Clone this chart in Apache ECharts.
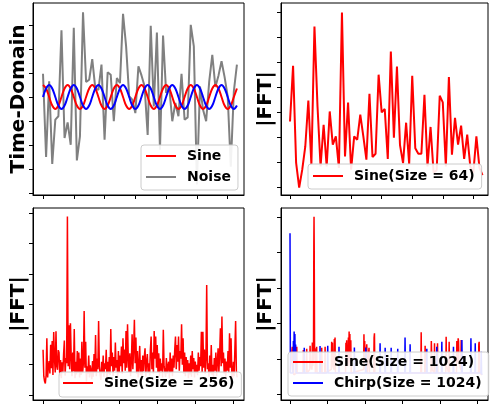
<!DOCTYPE html>
<html><head><meta charset="utf-8">
<script src="https://cdn.jsdelivr.net/npm/echarts@6/dist/echarts.min.js"></script>
<style>html,body{margin:0;padding:0;background:#fff}#c{width:490px;height:410px}</style>
</head><body><div id="c"></div><script>
// ---- Data ----
const sineTime = [0.5,0.354,0,-0.354,-0.5,-0.354,0,0.354, 0.5,0.354,0,-0.354,-0.5,-0.354,0,0.354,
  0.5,0.354,0,-0.354,-0.5,-0.354,0,0.354, 0.5,0.354,0,-0.354,-0.5,-0.354,0,0.354,
  0.5,0.354,0,-0.354,-0.5,-0.354,0,0.354, 0.5,0.354,0,-0.354,-0.5,-0.354,0,0.354,
  0.5,0.354,0,-0.354,-0.5,-0.354,0,0.354, 0.5,0.354,0,-0.354,-0.5,-0.354,0,0.354];
const sineShifted = [0,0.354,0.5,0.354,0,-0.354,-0.5,-0.354, 0,0.354,0.5,0.354,0,-0.354,-0.5,-0.354,
  0,0.354,0.5,0.354,0,-0.354,-0.5,-0.354, 0,0.354,0.5,0.354,0,-0.354,-0.5,-0.354,
  0,0.354,0.5,0.354,0,-0.354,-0.5,-0.354, 0,0.354,0.5,0.354,0,-0.354,-0.5,-0.354,
  0,0.354,0.5,0.354,0,-0.354,-0.5,-0.354, 0,0.354,0.5,0.354,0,-0.354,-0.5,-0.354];
const noise = [0.97,-2.5,0.65,-2.79,-0.94,-0.8,2.78,-1.71,-1.06,-1.99,2.88,-2.64,-1.64,3.53,0.63,0.72,
  1.58,0.35,0.3,1.35,-1.78,1.03,0.93,-1.01,0.79,0.58,3.47,2.11,0.03,-0.11,-0.67,1.28,
  0.9,0.45,-1.58,2.97,-0.39,2.69,-2.2,2.56,0.17,0.44,-1.01,-0.25,-0.8,0.97,-0.95,-0.85,
  3.01,2.11,-3.64,0.44,-0.53,-1.01,0.65,1.76,0.42,0.89,1.49,0.83,0.03,-2.9,0.24,1.35];
const fft64 = [2.65,4.88,0.99,0.0,0.72,1.65,3.49,0.92,6.45,3.25,0.85,2.52,0.85,3.05,1.72,2.05,
  0.79,7.01,1.25,3.41,0.72,2.05,1.92,2.92,2.05,1.12,3.76,1.23,1.36,4.52,3.01,3.15,
  1.15,5.45,2.0,4.85,1.7,0.98,2.6,0.95,4.48,1.58,1.36,1.36,3.72,0.85,2.43,0.6,
  0.7,3.68,3.41,0.85,4.43,1.32,2.79,1.72,2.48,1.15,2.12,0.85,0.6,2.05,0.8,0.5];
const fft256 = [1.49,0.62,0.45,0.38,0.65,1.87,0.58,0.92,1.12,0.71,1.66,0.88,1.78,0.66,2.08,1.21,
  0.74,2.10,0.95,0.83,1.48,1.40,0.62,1.15,0.55,1.08,0.72,1.35,1.80,0.64,1.22,1.05,
  5.89,0.95,2.30,0.85,2.37,1.25,0.62,1.40,0.78,2.18,0.55,1.10,0.68,1.45,0.74,1.40,
  0.58,1.20,0.66,1.76,0.72,1.05,2.77,0.90,1.76,0.45,0.95,0.70,1.30,0.58,0.98,0.80,
  0.52,1.12,0.60,1.35,0.75,1.98,0.62,1.20,0.85,2.44,0.95,0.66,0.50,1.10,0.72,1.30,
  0.60,1.05,0.85,1.49,0.55,1.10,0.70,1.25,0.66,2.18,0.95,1.40,0.62,1.25,0.80,1.73,
  0.90,1.15,0.58,1.45,0.72,1.30,0.95,1.60,0.70,1.87,1.05,1.50,0.80,2.11,0.90,2.33,
  1.20,0.75,1.38,0.62,1.10,2.00,0.85,1.55,2.48,1.05,1.90,0.70,1.45,0.58,1.00,1.62,
  0.66,1.15,0.52,1.30,0.78,1.25,1.54,0.60,1.10,1.35,0.72,1.05,0.64,1.50,1.93,0.85,
  1.40,0.70,2.11,1.20,1.93,0.90,1.65,0.75,1.38,0.62,1.20,0.80,1.05,0.58,2.15,0.95,
  1.00,0.60,1.22,0.70,0.95,1.10,0.55,1.40,0.75,1.20,0.62,1.30,0.90,1.50,1.93,0.85,
  1.65,1.10,1.93,0.80,1.45,1.20,2.33,1.00,1.87,0.70,1.40,0.62,1.25,0.75,1.15,0.55,
  1.05,0.68,1.30,0.60,1.45,0.85,1.22,0.58,1.10,0.72,1.00,0.65,1.40,0.80,1.25,0.95,
  2.09,0.75,2.09,0.90,1.50,0.70,1.20,3.63,0.85,1.05,0.60,1.30,0.72,1.65,0.66,1.00,
  0.58,1.22,0.80,1.40,0.62,1.10,1.54,0.75,1.35,2.20,0.95,2.59,1.05,1.40,0.70,1.20,
  0.60,1.10,0.80,1.45,0.72,2.04,0.90,1.87,0.65,0.55,1.10,0.62,1.50,2.44,0.75,0.58];
// size-1024 spectra: [bin index, |FFT|] points
const sine1024 = [[0,0.6],[10,0.55],[12,1.34],[14,0.6],[18,1.3],[20,0.55],[34,0.6],[36,1.34],[38,0.6],
  [69,0.6],[71,1.25],[73,0.6],[87,0.6],[89,1.28],[91,0.6],
  [105,0.7],[107,1.37],[109,0.8],[117,0.7],[119,1.46],[121,0.8],
  [125,1.0],[127,4.3],[128,5.0],[129,4.1],[131,1.1],[133,1.3],[135,0.6],
  [140,0.6],[142,1.34],[144,0.6],[167,0.6],[169,1.31],[171,0.6],[185,0.6],[187,1.34],[189,0.6],
  [220,0.7],[222,1.48],[224,0.8],[226,1.45],[228,0.8],[234,0.7],[236,1.56],[238,0.8],[240,1.6],[242,0.6],
  [296,0.6],[298,1.45],[300,0.8],[302,1.52],[304,0.9],[309,0.8],[311,1.6],[313,1.0],[315,1.77],[317,0.9],[319,1.7],[321,0.8],[324,1.52],[326,0.6],
  [392,0.7],[394,1.69],[396,0.8],[398,1.5],[400,0.7],[407,0.7],[409,1.41],[411,0.6],[419,0.6],[421,1.31],[423,0.6],
  [446,0.6],[448,1.6],[450,1.72],[452,0.6],
  [697,0.6],[699,1.75],[701,0.6],[718,0.6],[720,1.37],[722,0.6],
  [751,0.6],[753,1.5],[755,1.53],[757,0.7],[768,0.6],[770,1.44],[772,0.6],[784,0.6],[786,1.44],[788,0.6],
  [830,0.6],[832,1.62],[834,0.8],[846,0.6],[848,1.48],[850,0.6],
  [887,0.6],[889,1.5],[891,0.9],[896,1.58],[898,1.5],[900,0.9],[910,0.7],[912,1.53],[914,0.6],
  [1004,0.6],[1006,1.42],[1008,1.48],[1010,0.6],[1023,0.55]];
const chirp1024 = [[0,4.54],[2,0.6],[16,0.6],[18,1.5],[20,0.9],[22,1.77],[24,1.1],[26,1.7],[28,0.9],[30,1.4],[32,0.6],
  [74,0.6],[76,1.31],[78,0.6],[158,0.6],[160,1.36],[162,0.6],[199,0.6],[201,1.37],[203,0.6],
  [259,0.6],[261,1.34],[263,0.6],[341,0.6],[343,1.32],[345,0.6],[402,0.6],[404,1.32],[406,0.6],
  [478,0.6],[480,1.44],[482,0.6],[505,0.6],[507,1.31],[509,0.6],[537,0.6],[539,1.31],[541,0.6],[572,0.6],[574,1.28],[576,0.6],
  [611,0.6],[613,1.6],[615,0.6],[638,0.6],[640,1.41],[642,0.6],[727,0.6],[729,1.28],[731,0.6],[780,0.6],[782,1.34],[784,0.6],
  [807,0.6],[809,1.48],[811,0.6],[869,0.6],[871,1.34],[873,0.6],[914,0.6],[916,1.53],[918,0.6],[962,0.6],[964,1.58],[966,0.6],
  [985,0.6],[987,1.44],[989,0.6],[1017,0.6],[1019,1.2],[1021,0.6],[1023,0.55]];
// tick positions (labels hidden in the reference)
const ticks64 = [0,10,20,30,40,50,60];
const ticks256 = [0,50,100,150,200,250];
const ticks1024 = [0,200,400,600,800,1000];
const ticksTimeY = [-4,-3,-2,-1,0,1,2,3];
const ticksFft64Y = [0,1,2,3,4,5,6,7];
const ticksFft256Y = [0,1,2,3,4,5,6];
const ticksFft1024Y = [0,1,2,3,4,5];

// ---- Chart ----
const chart = echarts.init(document.getElementById('c'), null, {renderer:'canvas'});
const idx = arr => arr.map((v,i)=>[i,v]);
const FONT = 'DejaVu Sans';
function xAx(g, min, max, ticks){
  return {type:'value', gridIndex:g, min:min, max:max,
    axisLine:{show:true, onZero:false, lineStyle:{color:'#000', width:1}},
    axisTick:{show:true, length:4, lineStyle:{color:'#000', width:1}, customValues:ticks},
    axisLabel:{show:false}, splitLine:{show:false}};
}
function yAx(g, min, max, ticks){
  return {type:'value', gridIndex:g, min:min, max:max,
    axisLine:{show:true, onZero:false, lineStyle:{color:'#000', width:1}},
    axisTick:{show:true, length:4, lineStyle:{color:'#000', width:1}, customValues:ticks},
    axisLabel:{show:false}, splitLine:{show:false}};
}
function grid(left, top, w, h){
  return {left:left, top:top, width:w, height:h, show:true, borderColor:'#000', borderWidth:1, backgroundColor:'transparent'};
}
function legend(left, top, padding, names){
  return {orient:'vertical', left:left, top:top, padding:padding, itemWidth:30, itemHeight:2, itemGap:7,
    icon:'rect', backgroundColor:'rgba(255,255,255,0.9)', borderColor:'#cccccc', borderWidth:1, borderRadius:3,
    selectedMode:false,
    textStyle:{fontFamily:FONT, fontWeight:'bold', fontSize:14, color:'#000', padding:[0,0,0,6]},
    data:names};
}
function line(name, g, data, color, width, smooth){
  return {type:'line', name:name, xAxisIndex:g, yAxisIndex:g, data:data, symbol:'none', showSymbol:false,
    smooth:smooth||false, lineStyle:{color:color, width:width}, itemStyle:{color:color}, animation:false};
}
function ylabel(x, y, text){
  return {type:'text', x:x, y:y, rotation:Math.PI/2,
    style:{text:text, fontFamily:FONT, fontWeight:'bold', fontSize:20, fill:'#000', align:'center', verticalAlign:'middle'}};
}
chart.setOption({
  animation:false,
  backgroundColor:'#fff',
  grid:[grid(33,3,211,192), grid(281,3,207,192), grid(33,208,211,192), grid(281,208,207,192)],
  xAxis:[xAx(0,-3.25,65.3,ticks64), xAx(1,-2.95,64.8,ticks64), xAx(2,-13.2,264,ticks256), xAx(3,-48,1055,ticks1024)],
  yAxis:[yAx(0,-4.083,3.917,ticksTimeY), yAx(1,-0.292,7.388,ticksFft64Y), yAx(2,-0.165,6.17,ticksFft256Y), yAx(3,-0.16,5.248,ticksFft1024Y)],
  legend:[
    legend(141,145,[4,7,6,5],['Sine','Noise']),
    legend(308,164,[5,7,6,5],['Sine(Size = 64)']),
    legend(59,372,[4,7,7,4],['Sine(Size = 256)']),
    legend(288,352,[3,7,6,5],['Sine(Size = 1024)','Chirp(Size = 1024)'])
  ],
  graphic:[ylabel(18.8,99,'Time-Domain'), ylabel(265.5,99,'|FFT|'), ylabel(18.8,304,'|FFT|'), ylabel(265.5,304,'|FFT|')],
  series:[
    line('Noise',0,idx(noise),'#808080',2),
    line('Sine',0,idx(sineTime),'#ff0000',2,0.4),
    line('Shifted sine',0,idx(sineShifted),'#0000ff',2,0.4),
    line('Sine(Size = 64)',1,idx(fft64),'#ff0000',2),
    line('Sine(Size = 256)',2,idx(fft256),'#ff0000',1.5),
    line('Sine(Size = 1024)',3,sine1024,'#ff0000',1.5),
    line('Chirp(Size = 1024)',3,chirp1024,'#0000ff',1.5)
  ]
});
</script></body></html>
